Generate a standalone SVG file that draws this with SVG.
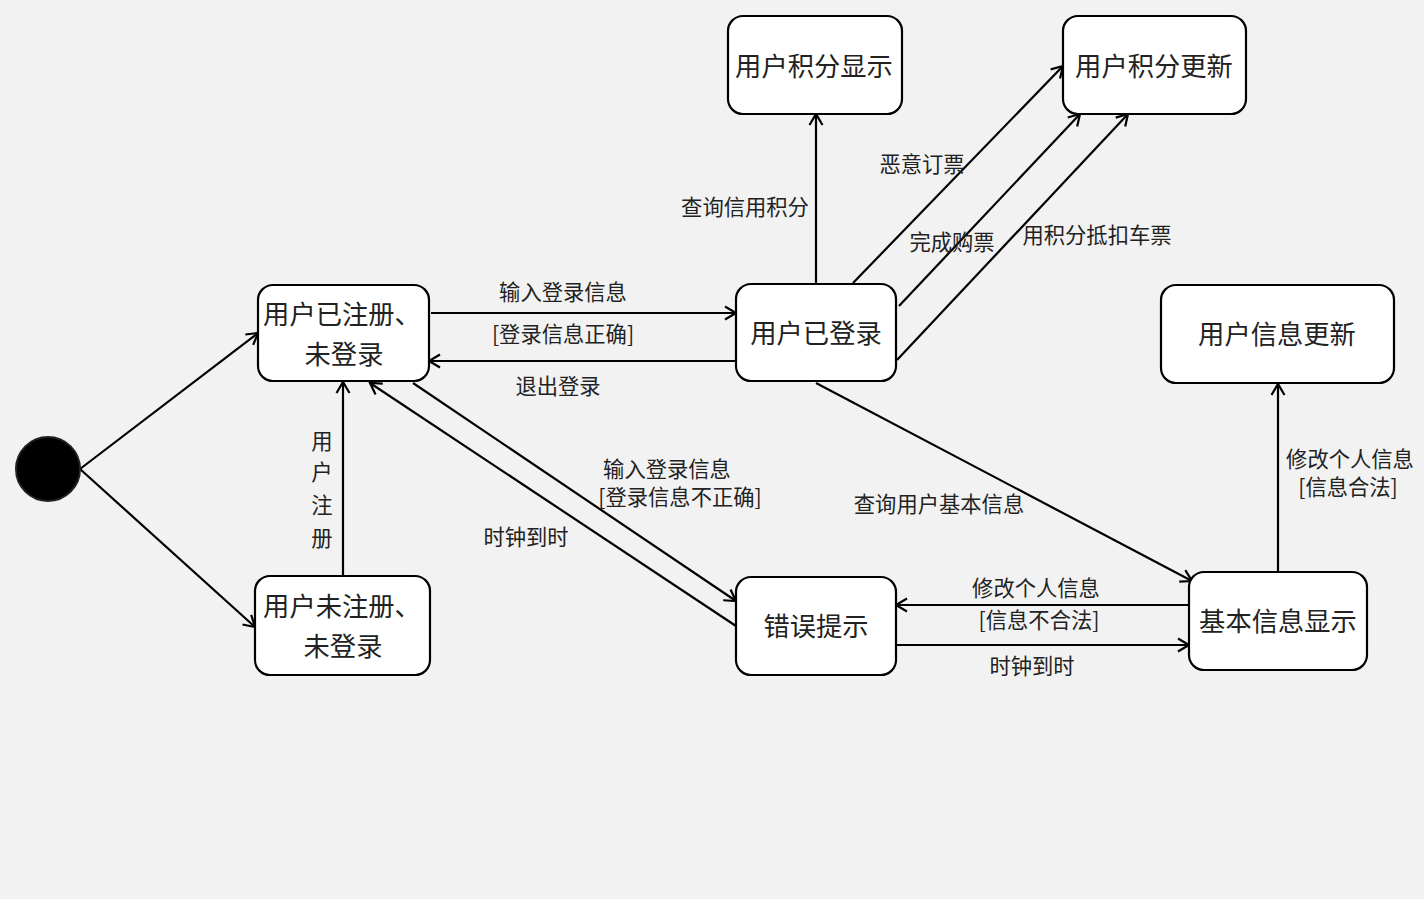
<svg xmlns="http://www.w3.org/2000/svg" width="1424" height="899" viewBox="0 0 1424 899">
<style>
.node rect{fill:#fff;stroke:#000;stroke-width:2.2}
.nt{font-family:"Noto Sans CJK SC","Noto Sans",sans-serif;font-size:26.3px;fill:#222;text-anchor:middle;dominant-baseline:central}
.lb{font-family:"Noto Sans CJK SC","Noto Sans",sans-serif;font-size:21.3px;fill:#222;text-anchor:middle;dominant-baseline:central}
.edges line{stroke:#000;stroke-width:2.2;fill:none;marker-end:url(#arr)}
</style>
<defs>
<marker id="arr" markerUnits="userSpaceOnUse" markerWidth="16" markerHeight="16" viewBox="0 0 16 16" refX="13" refY="8" orient="auto">
<path d="M2,1.5 L13,8 L2,14.5" fill="none" stroke="#000" stroke-width="2.2"/>
</marker>
</defs>
<rect width="1424" height="899" fill="#f2f2f2"/>
<g class="edges" id="connectors">
<line x1="80" y1="469" x2="258" y2="333"/>
<line x1="80" y1="469" x2="255" y2="627"/>
<line x1="343" y1="576" x2="343" y2="382"/>
<line x1="431" y1="313" x2="736" y2="313"/>
<line x1="736" y1="361" x2="429" y2="361"/>
<line x1="413" y1="383" x2="736" y2="601"/>
<line x1="736" y1="626" x2="370" y2="383"/>
<line x1="816" y1="284" x2="816" y2="114"/>
<line x1="853" y1="283" x2="1063" y2="66"/>
<line x1="899" y1="306" x2="1080" y2="114"/>
<line x1="897" y1="360" x2="1128" y2="114"/>
<line x1="816" y1="383" x2="1192" y2="581"/>
<line x1="1189" y1="605" x2="896" y2="605"/>
<line x1="897" y1="645" x2="1189" y2="645"/>
<line x1="1278" y1="572" x2="1278" y2="384"/>
</g>
<g id="edge-labels">
<text class="lb" x="322" y="439">用</text>
<text class="lb" x="322" y="470">户</text>
<text class="lb" x="322" y="503">注</text>
<text class="lb" x="322" y="536">册</text>
<text class="lb" x="563" y="290">输入登录信息</text>
<text class="lb" x="563" y="332">[登录信息正确]</text>
<text class="lb" x="558" y="384">退出登录</text>
<text class="lb" x="667" y="467">输入登录信息</text>
<text class="lb" x="680" y="495">[登录信息不正确]</text>
<text class="lb" x="526" y="535">时钟到时</text>
<text class="lb" x="745" y="205">查询信用积分</text>
<text class="lb" x="922" y="162">恶意订票</text>
<text class="lb" x="952" y="240">完成购票</text>
<text class="lb" x="1097" y="233">用积分抵扣车票</text>
<text class="lb" x="939" y="502">查询用户基本信息</text>
<text class="lb" x="1036" y="586">修改个人信息</text>
<text class="lb" x="1039" y="618">[信息不合法]</text>
<text class="lb" x="1032" y="664">时钟到时</text>
<text class="lb" x="1350" y="457">修改个人信息</text>
<text class="lb" x="1348" y="485">[信息合法]</text>
</g>
<g id="init"><circle cx="48" cy="469" r="32" fill="#000" stroke="#222" stroke-width="2"/></g>
<g id="nA" class="node"><rect x="258" y="285" width="171" height="96" rx="15"/><text class="nt" x="342" y="312">用户已注册、</text><text class="nt" x="344" y="352">未登录</text></g>
<g id="nB" class="node"><rect x="255" y="576" width="175" height="99" rx="15"/><text class="nt" x="342" y="604">用户未注册、</text><text class="nt" x="343" y="644">未登录</text></g>
<g id="nC" class="node"><rect x="736" y="284" width="160" height="97" rx="15"/><text class="nt" x="816" y="331">用户已登录</text></g>
<g id="nD" class="node"><rect x="728" y="16" width="174" height="98" rx="15"/><text class="nt" x="814" y="64">用户积分显示</text></g>
<g id="nE" class="node"><rect x="1063" y="16" width="183" height="98" rx="15"/><text class="nt" x="1154" y="64">用户积分更新</text></g>
<g id="nF" class="node"><rect x="1161" y="285" width="233" height="98" rx="15"/><text class="nt" x="1277" y="332">用户信息更新</text></g>
<g id="nG" class="node"><rect x="736" y="577" width="160" height="98" rx="15"/><text class="nt" x="816" y="624">错误提示</text></g>
<g id="nH" class="node"><rect x="1189" y="572" width="178" height="98" rx="15"/><text class="nt" x="1278" y="619">基本信息显示</text></g>
</svg>
